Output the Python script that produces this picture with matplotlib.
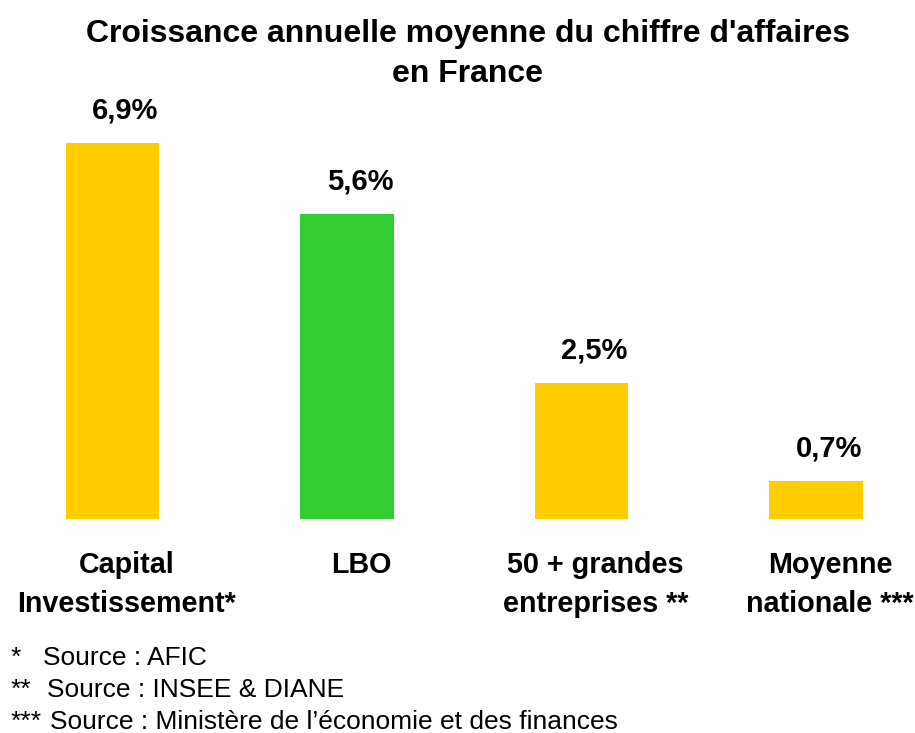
import matplotlib
matplotlib.use("Agg")
import matplotlib.pyplot as plt

plt.rcParams["font.family"] = ["Liberation Sans", "DejaVu Sans"]

# Data
categories = [["Capital", "Investissement*"], ["LBO"],
              ["50 + grandes", "entreprises **"], ["Moyenne", "nationale ***"]]
values = [6.9, 5.6, 2.5, 0.7]
value_labels = ["6,9%", "5,6%", "2,5%", "0,7%"]
colors = ["#FFCC00", "#33CC33", "#FFCC00", "#FFCC00"]
footnote_marks = ["*", "**", "***"]
footnotes = ["Source : AFIC", "Source : INSEE & DIANE",
             "Source : Ministère de l\u2019économie et des finances"]
title_lines = ["Croissance annuelle moyenne du chiffre d'affaires", "en France"]

W, H = 915, 733
fig = plt.figure(figsize=(W / 100, H / 100), dpi=100)
fig.patch.set_facecolor("white")

# axes covers full width; bottom of bars at y=519 px from top
ax = fig.add_axes([0, (H - 519) / H, 1, 519 / H])
spacing = 234.5
ax.set_xlim(-112.5 / spacing, (W - 112.5) / spacing)
ax.set_ylim(0, 519 / 54.5)
ax.axis("off")

x = list(range(len(values)))
ax.bar(x, values, width=0.4, color=colors)

for xi, v, lab in zip(x, values, value_labels):
    ax.annotate(lab, (xi, v), xytext=(13, 24), textcoords="offset pixels",
                ha="center", va="baseline", fontsize=21, fontweight="bold")

# category labels under bars (one line at a time)
for xi, lines in zip(x, categories):
    for j, line in enumerate(lines):
        ax.annotate(line, (xi, 0), xytext=(14, -(54 + 39 * j)),
                    textcoords="offset pixels", ha="center", va="baseline",
                    fontsize=20.7, fontweight="bold", annotation_clip=False)

for i, line in enumerate(title_lines):
    fig.text(468 / W, 1 - (42 + 40 * i) / H, line,
             ha="center", va="baseline", fontsize=23, fontweight="bold")

# footnotes
for i, (m, t) in enumerate(zip(footnote_marks, footnotes)):
    y = 1 - (665 + 32 * i) / H
    fig.text(11 / W, y, m, ha="left", va="baseline", fontsize=19)
    fig.text([43, 47, 50][i] / W, y, t, ha="left", va="baseline", fontsize=19)

fig.savefig("out.png", dpi=100)
